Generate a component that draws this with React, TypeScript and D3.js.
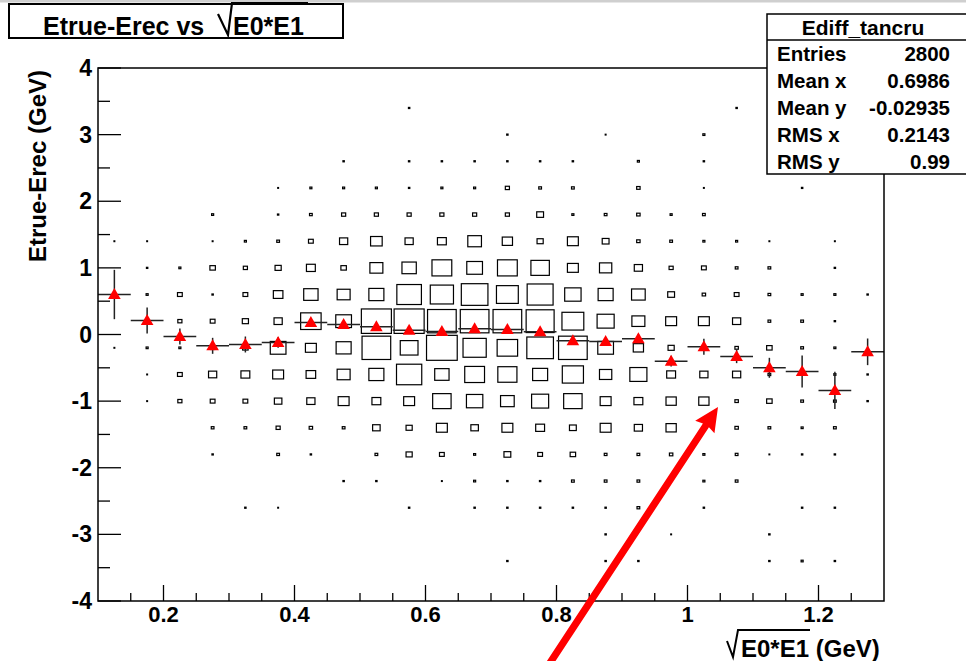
import React from 'react';
import * as d3 from 'd3';

// ---- data ----
const xBinCenters = [0.125, 0.175, 0.225, 0.275, 0.325, 0.375, 0.425, 0.475, 0.525, 0.575, 0.625, 0.675,
  0.725, 0.775, 0.825, 0.875, 0.925, 0.975, 1.025, 1.075, 1.125, 1.175, 1.225, 1.275];
const yBinCenters = [-3.8, -3.4, -3.0, -2.6, -2.2, -1.8, -1.4, -1.0, -0.6, -0.2, 0.2, 0.6, 1.0, 1.4, 1.8, 2.2, 2.6, 3.0, 3.4, 3.8];
// counts[xBin][yBin], yBin ordered as yBinCenters
const counts = [
  [0,0,0,0,0,0,0,0,0,1,0,0,0,1,0,0,0,0,0,0],
  [0,0,0,0,0,0,0,1,1,3,3,3,2,1,0,0,0,0,0,0],
  [0,0,0,0,0,0,0,6,7,3,6,7,3,0,0,0,0,0,0,0],
  [0,0,0,0,0,2,4,7,12,6,7,2,8,1,3,0,0,0,0,0],
  [0,0,0,2,0,0,4,7,13,8,9,7,6,3,0,0,0,0,0,0],
  [0,0,0,1,0,4,6,11,16,23,12,14,9,4,2,1,0,0,0,0],
  [0,0,0,0,0,2,5,12,14,16,30,21,13,7,4,3,0,0,0,0],
  [0,0,0,0,2,0,4,16,19,22,23,19,8,12,6,3,2,0,0,0],
  [0,0,0,0,2,4,11,13,22,42,44,22,19,17,6,3,0,0,0,0],
  [0,0,0,2,0,9,9,16,37,26,44,36,21,12,6,2,2,0,2,0],
  [0,0,0,0,1,7,16,27,21,45,42,34,29,13,6,3,2,0,0,0],
  [0,0,0,2,3,3,11,24,29,34,42,39,23,20,6,3,2,0,0,0],
  [0,2,0,2,2,10,16,20,28,30,42,32,29,15,6,6,2,2,0,0],
  [0,0,0,2,2,7,13,25,22,39,41,38,27,9,10,4,2,0,0,0],
  [0,0,0,2,4,8,10,27,31,42,32,24,16,16,3,4,2,0,0,0],
  [0,2,2,2,4,4,16,16,18,23,25,22,18,10,4,0,0,1,0,0],
  [0,2,0,4,4,4,12,13,25,15,19,20,12,5,5,5,3,0,0,0],
  [0,0,1,0,0,5,15,15,13,9,16,10,6,4,3,0,0,0,0,0],
  [0,0,0,2,3,3,4,15,12,4,16,5,7,3,4,1,2,3,0,0],
  [0,0,0,0,4,4,5,5,12,5,12,7,4,3,0,0,0,0,2,0],
  [0,2,2,0,0,1,4,8,4,8,4,4,4,1,0,0,0,0,0,0],
  [0,3,0,2,0,2,3,4,0,4,4,3,0,0,0,2,0,0,0,0],
  [0,2,0,2,0,2,4,4,3,3,2,3,2,1,0,0,0,0,0,0],
  [0,0,0,0,0,0,0,2,2,0,0,2,0,0,0,0,0,0,0,0],
];
const profileMean = [0.60, 0.21, -0.03, -0.17, -0.15, -0.12, 0.18, 0.15, 0.115, 0.065, 0.045, 0.085,
  0.075, 0.04, -0.095, -0.105, -0.065, -0.40, -0.185, -0.33, -0.50, -0.557, -0.84, -0.26];
const profileErr = [0.37, 0.195, 0.12, 0.12, 0.12, 0.08, 0.06, 0.06, 0.05, 0.05, 0.05, 0.05,
  0.05, 0.05, 0.06, 0.06, 0.07, 0.08, 0.12, 0.1, 0.15, 0.24, 0.28, 0.2];
const xTicks = [0.2, 0.4, 0.6, 0.8, 1.0, 1.2];
const xTickLabels = ['0.2', '0.4', '0.6', '0.8', '1', '1.2'];
const yTicks = [-4, -3, -2, -1, 0, 1, 2, 3, 4];
const statsLabels = ['Entries', 'Mean x', 'Mean y', 'RMS x', 'RMS y'];
const statsValues = ['2800', '0.6986', '-0.02935', '0.2143', '0.99'];
const histName = 'Ediff_tancru';

const FONT = "'Liberation Sans', Arial, Helvetica, sans-serif";

export default function App() {
  const W = 966, H = 661;
  const L = 98, R = 884, T = 68, B = 601;
  const x = d3.scaleLinear().domain([0.1, 1.3]).range([L, R]);
  const y = d3.scaleLinear().domain([-4, 4]).range([B, T]);
  const binW = 0.05, binH = 0.4;
  const cellW = x(binW) - x(0);
  const cellH = y(0) - y(binH);
  const size = d3.scaleLinear().domain([0, 48]).range([0, 1]);

  const xMinor = d3.range(0.15, 1.3, 0.05).filter(v => !xTicks.some(t => Math.abs(t - v) < 1e-6));
  const yMinor = d3.range(-3.5, 4, 1);

  const boxes: JSX.Element[] = [];
  counts.forEach((col, i) => {
    col.forEach((c, j) => {
      if (c <= 0) return;
      const r = size(c);
      const w = Math.max(cellW * r, 0.8), h = Math.max(cellH * r, 0.8);
      const cx = x(xBinCenters[i]), cy = y(yBinCenters[j]);
      boxes.push(
        <rect key={`b${i}-${j}`} x={cx - w / 2} y={cy - h / 2} width={w} height={h}
          fill="none" stroke="#000" strokeWidth={1.2} />
      );
    });
  });

  // arrow geometry
  const tip = [718, 407];
  const tail = [544, 672];
  const dx = tip[0] - tail[0], dy = tip[1] - tail[1];
  const len = Math.hypot(dx, dy);
  const ux = dx / len, uy = dy / len;
  const nx = -uy, ny = ux;
  const headL = 24, headW = 11.5, shaftW = 3.6;
  const bx = tip[0] - ux * headL, by = tip[1] - uy * headL;
  const arrowPts = [
    [tail[0] + nx * shaftW, tail[1] + ny * shaftW],
    [bx + ux * 2 + nx * shaftW, by + uy * 2 + ny * shaftW],
    [bx + nx * headW, by + ny * headW],
    tip,
    [bx - nx * headW, by - ny * headW],
    [bx + ux * 2 - nx * shaftW, by + uy * 2 - ny * shaftW],
    [tail[0] - nx * shaftW, tail[1] - ny * shaftW],
  ].map(p => p.join(',')).join(' ');

  const tri = (cx: number, cy: number) =>
    `M${cx},${cy - 6.5}L${cx + 6.3},${cy + 4.5}L${cx - 6.3},${cy + 4.5}Z`;

  return (
    <svg width={W} height={H} style={{ position: 'absolute', left: 0, top: 0, background: '#fff' }}
      fontFamily={FONT} fontWeight="bold">
      <rect x={0} y={0} width={W} height={H} fill="#fff" />
      <rect x={0} y={0} width={W} height={2.5} fill="#cfcfcf" />

      {/* boxes */}
      <g>{boxes}</g>

      {/* profile */}
      <g stroke="#222" strokeWidth={1.5}>
        {profileMean.map((m, i) => (
          <g key={`p${i}`}>
            <line x1={x(xBinCenters[i] - binW / 2)} x2={x(xBinCenters[i] + binW / 2)} y1={y(m)} y2={y(m)} />
            <line x1={x(xBinCenters[i])} x2={x(xBinCenters[i])} y1={y(m - profileErr[i])} y2={y(m + profileErr[i])} />
          </g>
        ))}
      </g>
      <g fill="#ff0000">
        {profileMean.map((m, i) => (
          <path key={`m${i}`} d={tri(x(xBinCenters[i]), y(m))} />
        ))}
      </g>

      {/* frame */}
      <rect x={L} y={T} width={R - L} height={B - T} fill="none" stroke="#000" strokeWidth={1.5} />

      {/* axis ticks */}
      <g stroke="#000" strokeWidth={1.3}>
        {xTicks.map(t => <line key={`xt${t}`} x1={x(t)} x2={x(t)} y1={B} y2={B - 16} />)}
        {xMinor.map(t => <line key={`xm${t}`} x1={x(t)} x2={x(t)} y1={B} y2={B - 8} />)}
        {yTicks.map(t => <line key={`yt${t}`} x1={L} x2={L + 23} y1={y(t)} y2={y(t)} />)}
        {yMinor.map(t => <line key={`ym${t}`} x1={L} x2={L + 12} y1={y(t)} y2={y(t)} />)}
      </g>
      <g fill="#000">
        {xTicks.map((t, i) => (
          <text key={`xl${t}`} fontSize={22} x={x(t)} y={622} textAnchor="middle">{xTickLabels[i]}</text>
        ))}
        {yTicks.map(t => (
          <text key={`yl${t}`} fontSize={23} x={92} y={y(t) + 8} textAnchor="end">{t}</text>
        ))}
      </g>

      {/* axis titles */}
      <text fontSize={24} x={46} y={T + 2} textAnchor="end" transform={`rotate(-90, 46, ${T + 2})`}>Etrue-Erec (GeV)</text>
      <g>
        <path d="M727,641 L733,657 L738,630 L810,630" fill="none" stroke="#000" strokeWidth={2} />
        <text fontSize={24} x={741} y={657}>E0*E1 (GeV)</text>
      </g>

      {/* arrow */}
      <polygon points={arrowPts} fill="#ff0000" />

      {/* title box */}
      <rect x={9} y={4} width={334} height={34} fill="#fff" stroke="#000" strokeWidth={2} />
      <text fontSize={25} x={43} y={35}>Etrue-Erec vs </text>
      <path d="M218,14 L228,35 L232,3 L308,3" fill="none" stroke="#000" strokeWidth={2.2} />
      <text fontSize={25} x={233} y={35}>E0*E1</text>

      {/* stats box */}
      <rect x={767} y={14} width={220} height={160} fill="#fff" stroke="#000" strokeWidth={1.5} />
      <line x1={767} x2={966} y1={40} y2={40} stroke="#000" strokeWidth={1.5} />
      <text fontSize={21} x={863} y={35} textAnchor="middle">{histName}</text>
      <g fontSize={20.5}>
        {statsLabels.map((s, i) => (
          <g key={s}>
            <text x={777} y={61 + i * 27}>{s}</text>
            <text x={950} y={61 + i * 27} textAnchor="end">{statsValues[i]}</text>
          </g>
        ))}
      </g>
    </svg>
  );
}
